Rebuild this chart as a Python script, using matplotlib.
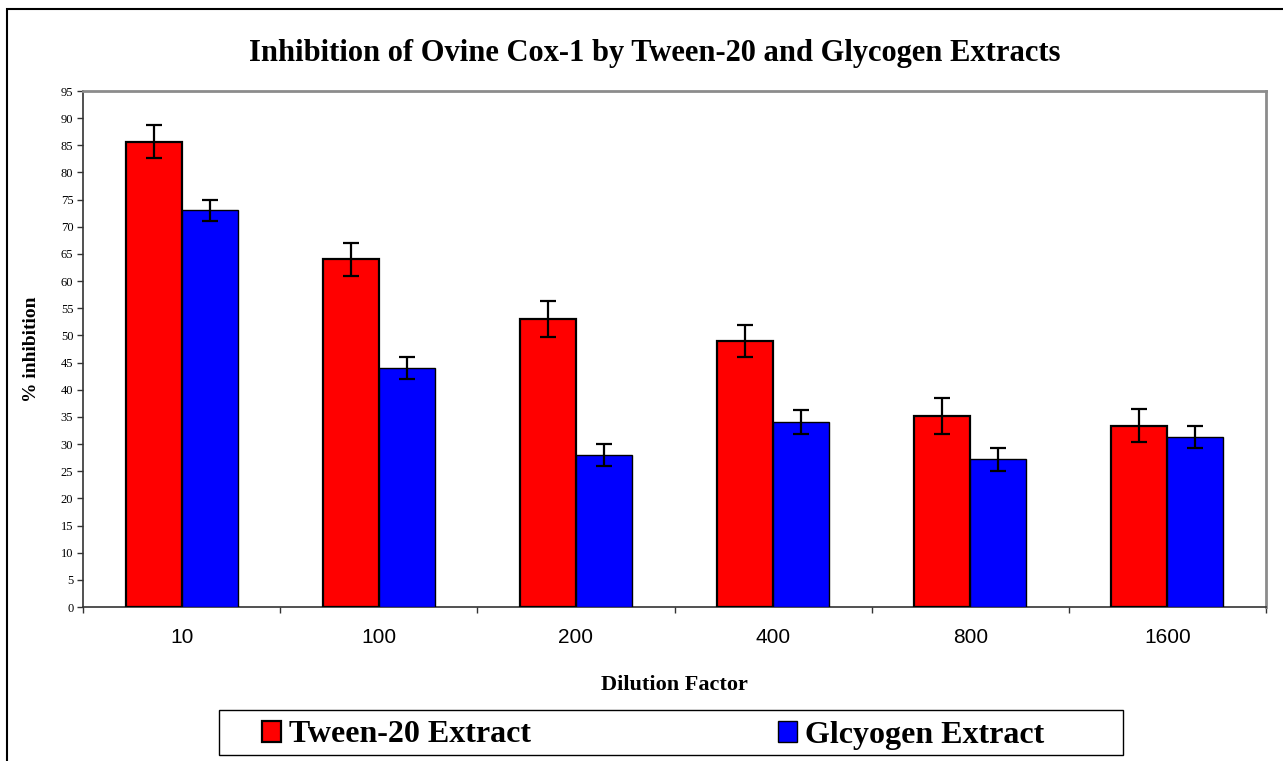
import numpy as np
import matplotlib
matplotlib.use("Agg")
import matplotlib.pyplot as plt
from matplotlib.patches import Rectangle
from matplotlib.ticker import FixedLocator, MultipleLocator

# data
dilutions = ["10", "100", "200", "400", "800", "1600"]
tween = [85.7, 64.0, 53.0, 49.0, 35.2, 33.4]
tween_err = [3.0, 3.0, 3.3, 3.0, 3.3, 3.1]
glycogen = [73.0, 44.0, 28.0, 34.0, 27.2, 31.3]
glycogen_err = [2.0, 2.0, 2.1, 2.2, 2.1, 2.0]

serif = ["Liberation Serif", "DejaVu Serif"]
sans = ["Liberation Sans", "DejaVu Sans"]
W, H = 1283, 761

fig = plt.figure(figsize=(W / 100, H / 100), dpi=100)
ax = fig.add_axes([83 / W, 1 - 607 / H, (1266 - 83) / W, (607 - 91) / H])

x = np.arange(len(dilutions))
w = 0.284
ebar = dict(elinewidth=1.6, capthick=1.6, ecolor="black")
b1 = ax.bar(x - w / 2, tween, w, color="#FF0000", edgecolor="black", linewidth=1.6,
            yerr=tween_err, capsize=6, error_kw=ebar, label="Tween-20 Extract", zorder=3)
b2 = ax.bar(x + w / 2, glycogen, w, color="#0000FF", edgecolor="black", linewidth=1.0,
            yerr=glycogen_err, capsize=6, error_kw=ebar, label="Glcyogen Extract", zorder=3)

ax.set_xlim(-0.5, len(dilutions) - 0.5)
ax.set_ylim(0, 95)
ax.yaxis.set_major_locator(MultipleLocator(5))

# ticks at category boundaries, labels at centres
ax.xaxis.set_major_locator(FixedLocator(np.arange(-0.5, len(dilutions), 1.0)))
ax.xaxis.set_minor_locator(FixedLocator(x))
ax.set_xticklabels([], minor=False)
ax.set_xticklabels(dilutions, minor=True, family=sans, fontsize=15)
ax.tick_params(axis="x", which="major", direction="out", length=4, width=1, color="#333333")
ax.tick_params(axis="x", which="minor", length=0, pad=15)
ax.tick_params(axis="y", direction="out", length=4, width=1, color="#333333", labelsize=9, pad=3)
for lab in ax.get_yticklabels():
    lab.set_family(serif)

for side in ["left", "bottom"]:
    ax.spines[side].set_color("#333333")
    ax.spines[side].set_linewidth(1.2)
for side in ["top", "right"]:
    ax.spines[side].set_color("#8c8c8c")
    ax.spines[side].set_linewidth(2)

ax.set_ylabel("% inhibition", family=serif, fontweight="bold", fontsize=14, labelpad=15)
ax.set_xlabel("Dilution Factor", family=serif, fontweight="bold", fontsize=16, labelpad=20)

fig.text(655 / W, 1 - 53 / H, "Inhibition of Ovine Cox-1 by Tween-20 and Glycogen Extracts",
         family=serif, fontweight="bold", fontsize=22, ha="center", va="center")

# legend: frame drawn separately, one entry placed at each spot
fig.patches.append(Rectangle((219 / W, 1 - 755 / H), (1123 - 219) / W, 45 / H,
                             transform=fig.transFigure, fill=False, edgecolor="black",
                             linewidth=1.0))
for handle, xpos in [(b1, 262), (b2, 778)]:
    fig.legend(handles=[handle], loc="center left", bbox_to_anchor=(xpos / W, 1 - 735 / H),
               prop=dict(family=serif, weight="bold", size=23), frameon=False,
               handlelength=0.58, handleheight=0.62, handletextpad=0.25,
               borderaxespad=0, borderpad=0)

# outer chart border
fig.patches.append(Rectangle((7 / W, -0.1), 2, 1 - 9 / H + 0.1, transform=fig.transFigure,
                             fill=False, edgecolor="black", linewidth=1.5))

fig.savefig("out.png", dpi=100)
